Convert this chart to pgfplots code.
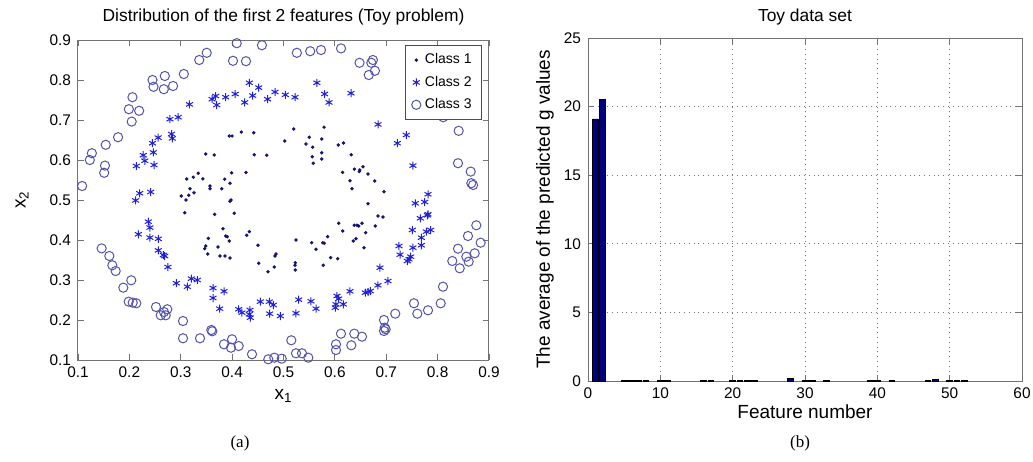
\documentclass[border=0pt]{standalone}
\usepackage{fontspec}
\setmainfont{Liberation Sans}
\newfontfamily\seriffont{Liberation Serif}
\usepackage{pgfplots}
\pgfplotsset{compat=1.18}
\definecolor{cA}{rgb}{0.08,0.08,0.45}
\definecolor{cB}{rgb}{0.12,0.12,0.85}
\definecolor{cC}{rgb}{0.33,0.33,0.68}
\definecolor{barc}{rgb}{0.0,0.0,0.5}
\definecolor{axc}{rgb}{0.45,0.45,0.45}
\begin{document}
\begin{tikzpicture}
\useasboundingbox (0,0) rectangle (516.5pt,230.5pt);
\pgfplotsset{
  every axis/.append style={
    axis line style={axc, line width=0.5pt},
    tick style={axc, line width=0.4pt},
    major tick length=3pt,
    tick align=inside,
    xtick pos=both, ytick pos=both,
    tick label style={font=\fontsize{7.7}{8}\selectfont},
    /pgf/number format/assume math mode=true,
    label style={font=\fontsize{9.5}{11}\selectfont},
    title style={font=\fontsize{8.7}{10}\selectfont},
  }
}
\begin{axis}[
  at={(39pt,50.5pt)}, anchor=south west, scale only axis,
  width=205.5pt, height=160pt,
  xmin=0.1, xmax=0.9, ymin=0.1, ymax=0.9,
  xtick={0.1,0.2,0.3,0.4,0.5,0.6,0.7,0.8,0.9},
  ytick={0.1,0.2,0.3,0.4,0.5,0.6,0.7,0.8,0.9},
  xticklabel style={/pgf/number format/.cd, fixed, fixed zerofill, precision=1},
  yticklabel style={/pgf/number format/.cd, fixed, fixed zerofill, precision=1},
  title={Distribution of the first 2 features (Toy problem)},
  title style={at={(axis description cs:0.5,1.072)}, anchor=center, yshift=-6pt},
  xlabel={x\textsubscript{1}},
  ylabel={x\textsubscript{2}},
  xlabel style={at={(axis description cs:0.5,-0.112)}, anchor=center},
  ylabel style={at={(axis description cs:-0.136,0.5)}, anchor=center},
  legend style={at={(0.983,0.984)}, anchor=north east, draw=black!70, fill=white,
    font=\fontsize{7}{8}\selectfont, row sep=0.6pt, inner xsep=3pt, inner ysep=2pt},
  legend cell align=left,
]
\addplot[only marks, mark=*, mark size=0.65pt, color=cA] coordinates {
(0.3485,0.615)(0.365,0.6125)(0.3115,0.5525)(0.3245,0.557)(0.334,0.567)(0.343,0.553)(0.357,0.535)(0.3855,0.552)
(0.3945,0.66)(0.400,0.66)(0.418,0.67)(0.442,0.668)(0.520,0.6775)(0.5023,0.6475)(0.579,0.682)(0.550,0.657)
(0.5744,0.6525)(0.5438,0.640)(0.5568,0.632)(0.6067,0.6375)(0.617,0.6425)(0.443,0.613)(0.4673,0.612)(0.556,0.608)
(0.5744,0.618)(0.558,0.592)(0.5744,0.6025)(0.632,0.613)(0.399,0.568)(0.427,0.569)(0.396,0.542)(0.615,0.569)
(0.638,0.577)(0.6475,0.571)(0.6294,0.548)(0.6547,0.583)(0.6645,0.565)(0.6775,0.5475)(0.6483,0.575)
(0.318,0.5283)(0.3258,0.518)(0.3155,0.5118)(0.301,0.51)(0.3102,0.50)(0.357,0.528)(0.3797,0.528)(0.3077,0.468)
(0.366,0.464)(0.3822,0.428)(0.3537,0.404)(0.3875,0.41)(0.3485,0.385)(0.3466,0.3783)(0.3525,0.365)(0.3725,0.3825)
(0.3764,0.36)(0.386,0.36)(0.3978,0.50)(0.3959,0.4968)(0.4042,0.4668)(0.6333,0.528)(0.3906,0.4083)(0.3945,0.3975)
(0.3959,0.355)(0.4284,0.4118)(0.4335,0.4208)(0.4504,0.3868)(0.4854,0.365)(0.4835,0.36)(0.4517,0.3418)(0.4821,0.3325)
(0.4698,0.3208)(0.5243,0.40)(0.523,0.3433)(0.5224,0.3368)(0.523,0.325)(0.5549,0.3933)(0.5633,0.3768)(0.5763,0.3933)
(0.5794,0.3918)(0.586,0.4083)(0.5775,0.3368)(0.5918,0.3558)(0.6055,0.3533)(0.6074,0.4418)(0.6152,0.4225)(0.6378,0.4368)
(0.643,0.4368)(0.6411,0.4033)(0.6359,0.3975)(0.6956,0.5208)(0.6645,0.4908)(0.6839,0.46)(0.6937,0.4575)(0.6528,0.4418)
(0.6464,0.435)(0.6787,0.435)(0.66,0.4183)(0.6567,0.3808)
};
\addlegendentry{Class 1}
\addplot[only marks, mark=asterisk, mark size=2pt, color=cB, mark options={line width=0.5pt}] coordinates {
(0.317,0.739)(0.361,0.752)(0.37,0.7375)(0.3875,0.757)(0.368,0.76)(0.279,0.702)(0.295,0.707)(0.282,0.665)
(0.2835,0.654)(0.256,0.656)(0.245,0.642)(0.2466,0.619)(0.227,0.612)(0.230,0.598)(0.248,0.5875)(0.2135,0.585)
(0.4335,0.793)(0.4517,0.781)(0.406,0.765)(0.4245,0.744)(0.44,0.761)(0.469,0.752)(0.4835,0.77)(0.5035,0.763)
(0.5224,0.757)(0.565,0.793)(0.580,0.765)(0.5886,0.744)(0.6314,0.767)(0.684,0.689)(0.739,0.6625)(0.7215,0.642)
(0.752,0.586)(0.22,0.5168)(0.2415,0.52)(0.2123,0.499)(0.2368,0.4458)(0.240,0.431)(0.2174,0.4143)(0.240,0.406)
(0.2563,0.403)(0.2563,0.374)(0.266,0.3625)(0.2688,0.36)(0.275,0.3325)(0.2914,0.292)(0.3128,0.2833)(0.3206,0.3033)
(0.3322,0.30)(0.3628,0.28)(0.3842,0.2718)(0.3628,0.255)(0.3758,0.2283)(0.4128,0.2268)(0.4192,0.2183)(0.4348,0.225)
(0.4334,0.2143)(0.4354,0.2058)(0.4548,0.2458)(0.4724,0.2458)(0.4802,0.2375)(0.4731,0.2158)(0.4938,0.21)(0.5243,0.2168)
(0.5296,0.2508)(0.5535,0.2468)(0.5633,0.2283)(0.6041,0.26)(0.6074,0.2533)(0.6022,0.2393)(0.6008,0.2308)(0.6164,0.2393)
(0.6294,0.2718)(0.7813,0.5143)(0.7748,0.495)(0.7565,0.4918)(0.7663,0.4543)(0.78,0.4618)(0.7813,0.4643)(0.7507,0.425)
(0.778,0.4208)(0.7865,0.425)(0.7683,0.4058)(0.7248,0.385)(0.752,0.3808)(0.7683,0.3868)(0.7268,0.3633)(0.7476,0.3583)
(0.7443,0.3518)(0.741,0.3475)(0.6878,0.3308)(0.7034,0.2975)(0.6839,0.2868)(0.6645,0.27)(0.669,0.2725)(0.6592,0.2683)
};
\addlegendentry{Class 2}
\addplot[only marks, mark=o, mark size=2.3pt, color=cC, mark options={line width=0.5pt}] coordinates {
(0.3505,0.868)(0.336,0.85)(0.269,0.81)(0.306,0.815)(0.245,0.80)(0.247,0.783)(0.267,0.777)(0.285,0.785)
(0.206,0.757)(0.199,0.727)(0.219,0.723)(0.2045,0.696)(0.178,0.657)(0.154,0.638)(0.127,0.617)(0.123,0.60)
(0.1525,0.586)(0.151,0.568)(0.108,0.535)(0.409,0.892)(0.458,0.887)(0.4017,0.848)(0.427,0.847)(0.526,0.868)
(0.552,0.872)(0.573,0.875)(0.612,0.879)(0.648,0.843)(0.671,0.843)(0.674,0.85)(0.666,0.8125)(0.678,0.823)
(0.78,0.728)(0.811,0.707)(0.841,0.673)(0.8397,0.592)(0.8644,0.571)(0.8656,0.542)(0.869,0.5375)
(0.146,0.379)(0.161,0.36)(0.1668,0.3368)(0.1733,0.3225)(0.2037,0.2993)(0.1882,0.2808)(0.1987,0.2458)(0.2065,0.2433)
(0.2135,0.2418)(0.2518,0.2325)(0.2738,0.2268)(0.261,0.2118)(0.2707,0.2118)(0.2674,0.22)(0.3044,0.1975)(0.3044,0.1543)
(0.3375,0.1543)(0.3595,0.175)(0.3614,0.1718)(0.3842,0.1393)(0.3998,0.1518)(0.3978,0.1308)(0.4128,0.135)(0.4387,0.1143)
(0.4704,0.1018)(0.4821,0.1058)(0.4965,0.1033)(0.5152,0.1493)(0.5243,0.1168)(0.536,0.1168)(0.5483,0.1058)(0.6119,0.1658)
(0.6378,0.1658)(0.6022,0.1393)(0.6022,0.125)(0.632,0.1368)(0.8753,0.4368)(0.8591,0.41)(0.8838,0.3933)(0.8397,0.3783)
(0.8722,0.3668)(0.8559,0.3583)(0.8286,0.3475)(0.843,0.3293)(0.8605,0.3458)(0.8105,0.2833)(0.806,0.2418)(0.754,0.2418)
(0.7605,0.2158)(0.7813,0.2243)(0.7176,0.2158)(0.6956,0.20)(0.697,0.1808)(0.6956,0.1725)(0.6989,0.1768)(0.6528,0.1583)
};
\addlegendentry{Class 3}
\end{axis}

\begin{axis}[
  at={(294pt,40pt)}, anchor=south west, scale only axis,
  width=217pt, height=171.5pt,
  xmin=0, xmax=60, ymin=0, ymax=25,
  xtick={0,10,20,30,40,50,60},
  ytick={0,5,10,15,20,25},
  grid=major,
  major grid style={black!55, dotted, line width=0.4pt},
  title={Toy data set},
  title style={at={(axis description cs:0.5,1.061)}, anchor=center, yshift=-6pt},
  xlabel={Feature number},
  ylabel={The average of the predicted g values},
  xlabel style={at={(axis description cs:0.5,-0.09)}, anchor=center},
  ylabel style={at={(axis description cs:-0.099,0.5)}, anchor=center},
]
\addplot[ybar, bar width=0.8, bar shift=0pt, fill=barc, draw=black, line width=0.4pt] coordinates {
(1,19.1)(2,20.5)(5,0.03)(6,0.04)(7,0.03)(8,0.04)(10,0.05)(11,0.04)(16,0.03)(17,0.04)(20,0.06)(21,0.03)
(22,0.04)(23,0.04)(28,0.16)(30,0.05)(31,0.05)(33,0.06)(39,0.04)(40,0.05)(42,0.06)(47,0.04)(48,0.1)
(50,0.04)(51,0.04)(52,0.05)
};
\end{axis}

\node[font=\seriffont\fontsize{8.5}{10}\selectfont] at (120pt,9pt) {(a)};
\node[font=\seriffont\fontsize{8.5}{10}\selectfont] at (400pt,9pt) {(b)};
\end{tikzpicture}
\end{document}
